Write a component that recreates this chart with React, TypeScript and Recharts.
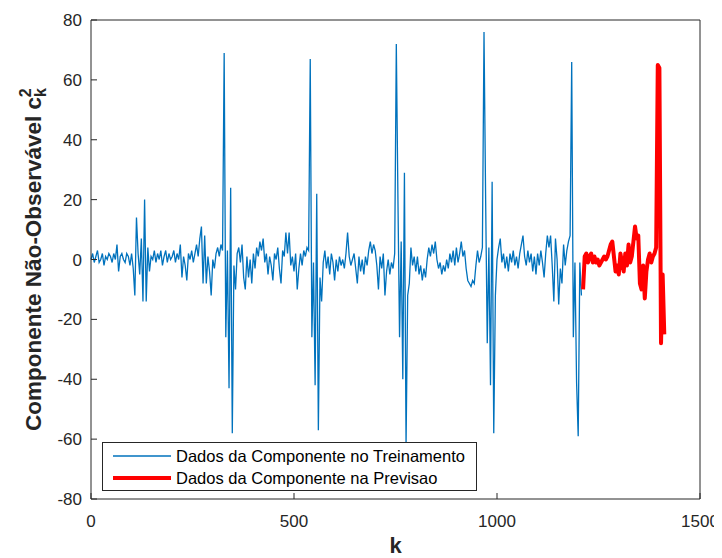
import { LineChart, Line, XAxis, YAxis } from 'recharts';

// training component, one value every 4 steps of k, starting at k = 0
const trainStep = 4;
const trainValues = [
  0, 2, -1, 1, 3, -1, 0, 2, -2, 1, 0, 2, 1, -1, 2, 0, 5, -4, 1, 2, 0, -1, 2, 1, -2,
  2, -3, -12, 14, 2, -5, 7, -14, 20, -14, 4, -4, 1, 0, 3, -1, 2, 0, 3, -2, 1, 3, -1, 2, 0,
  1, 3, -1, 2, 0, 5, -6, 1, -2, -7, 2, 0, 3, -1, 2, 5, 1, 7, 11, -8, 8, -8, 1, -4, -12,
  0, -3, 2, 4, 1, 5, 3, 69, -26, 3, -43, 24, -58, -2, -10, 2, 4, -1, 5, -6, -10, 1, -6, 0, -8,
  2, -3, 4, 1, 6, 3, 7, -1, 2, -5, 1, -2, -7, 2, 0, 4, -3, -8, 3, 1, 9, 2, 9, -2, 1,
  -4, 2, -10, -3, 2, -2, 3, 1, 4, 3, 67, -26, -1, -42, 22, -57, -6, -14, -1, 3, -3, 1, -5, 2, -1,
  -7, 0, -4, 1, -2, 0, -3, 2, 9, 1, -2, 0, 2, -3, -8, 1, -4, 0, -5, 1, -2, 3, 6, 2, 5,
  3, -2, -10, 1, -3, 2, -12, -4, 0, -5, -1, -3, 2, 72, 20, -26, 6, -40, 29, -62, -12, -8, 4, -2, 1,
  -4, 1, -5, -2, -7, -3, -6, 0, 4, 1, 5, 2, 6, 0, -3, -1, -5, -2, -4, 0, -3, 2, -1, 3, -2,
  4, -1, 2, 6, 1, 3, -3, -7, -8, -9, -7, -8, -2, 3, -1, 1, 4, 76, 20, -28, 4, -42, 26, -58, -12,
  0, 4, 7, -1, 2, -3, 1, -4, 2, -1, 3, -2, 1, -3, 2, 5, 8, 1, -2, 3, -1, 2, -4, 1, -5,
  2, -2, 3, -1, -6, 2, 8, 4, 8, -2, -14, 7, 0, -15, -3, -8, 5, -2, 3, 6, 8, 66, -26, -1, -41,
  -59, -1, -12,
];

// forecast component, from k = 1212 with the same step
const forecastStart = 1212;
const forecastValues = [
  -10, 1, 2, -1, 1, 2, -1, 1, -1, 0, -2, -1, 0, 1, 0, 1, 3, 5, 6, 1, -4, -2, -5, 2, -1,
  -4, 2, -2, 5, -1, 1, 6, 11, 7, 8, -8, -10, -2, -13, -4, 0, 2, -1, 1, 2, 4, 65, 64, -28, -5,
  -25,
];

const xTicks = [0, 500, 1000, 1500];
const yTicks = [-80, -60, -40, -20, 0, 20, 40, 60, 80];

const train = trainValues.map((v, i) => ({ k: i * trainStep, v }));
const forecast = forecastValues.map((v, i) => ({ k: forecastStart + i * trainStep, v }));

const FONT = '"Liberation Sans", Arial, Helvetica, sans-serif';
const INK = '#262626';
const BLUE = '#0072BD';
const RED = '#FF0000';

function YTitle(props: any) {
  const vb = props.viewBox || { y: 12, height: 479 };
  const cx = 33;
  const cy = vb.y + vb.height / 2;
  return (
    <text
      x={cx}
      y={cy}
      transform={`rotate(-90 ${cx} ${cy})`}
      textAnchor="middle"
      fontFamily={FONT}
      fontWeight="bold"
      fontSize={22.5}
      fill={INK}
    >
      Componente Não-Observável c
      <tspan fontSize={16} dy={5}>k</tspan>
      <tspan fontSize={16} dx={-9} dy={-15}>2</tspan>
    </text>
  );
}

function XTitle(props: any) {
  const vb = props.viewBox || { x: 83, y: 491, width: 609 };
  return (
    <text
      x={vb.x + vb.width / 2}
      y={vb.y + 54}
      textAnchor="middle"
      fontFamily={FONT}
      fontWeight="bold"
      fontSize={22}
      fill={INK}
    >
      k
    </text>
  );
}

function Legend() {
  const row = { display: 'flex', alignItems: 'center', height: 22 };
  return (
    <div
      style={{
        position: 'absolute', left: 94, top: 434, width: 375, height: 49,
        boxSizing: 'border-box', border: `1px solid ${INK}`, background: '#fff',
        fontFamily: FONT, fontSize: 16.5, color: '#000', padding: '2px 0 0 10px',
      }}
    >
      <div style={row}>
        <svg width={63} height={10}><line x1={0} x2={58} y1={5} y2={5} stroke={BLUE} strokeWidth={1.5} /></svg>
        <span>Dados da Componente no Treinamento</span>
      </div>
      <div style={row}>
        <svg width={63} height={10}><line x1={0} x2={58} y1={5} y2={5} stroke={RED} strokeWidth={4} /></svg>
        <span>Dados da Componente na Previsao</span>
      </div>
    </div>
  );
}

export default function App() {
  const tickStyle = { fontFamily: FONT, fontSize: 17, fill: INK };
  return (
    <div style={{ position: 'relative', width: 714, height: 550 }}>
      <LineChart width={714} height={550} margin={{ top: 11, right: 21, bottom: 29, left: 23 }}>
        <XAxis
          xAxisId="b" dataKey="k" type="number" domain={[0, 1500]} ticks={xTicks}
          height={30} tickSize={-6} tickMargin={22} stroke={INK} tick={tickStyle}
          label={<XTitle />}
        />
        <XAxis
          xAxisId="t" dataKey="k" orientation="top" type="number" domain={[0, 1500]} ticks={xTicks}
          height={1} tickSize={-6} tick={false} stroke={INK}
        />
        <YAxis
          yAxisId="l" type="number" domain={[-80, 80]} ticks={yTicks}
          width={60} tickSize={-6} tickMargin={15} stroke={INK} tick={tickStyle}
          label={<YTitle />}
        />
        <YAxis
          yAxisId="r" orientation="right" type="number" domain={[-80, 80]} ticks={yTicks}
          width={1} tickSize={-6} tick={false} stroke={INK}
        />
        <Line
          xAxisId="b" yAxisId="l" data={train} dataKey="v" type="linear"
          stroke={BLUE} strokeWidth={1.3} dot={false} isAnimationActive={false}
        />
        <Line
          xAxisId="t" yAxisId="r" data={forecast} dataKey="v" type="linear"
          stroke={RED} strokeWidth={4} strokeLinejoin="round" dot={false} isAnimationActive={false}
        />
      </LineChart>
      <Legend />
    </div>
  );
}
